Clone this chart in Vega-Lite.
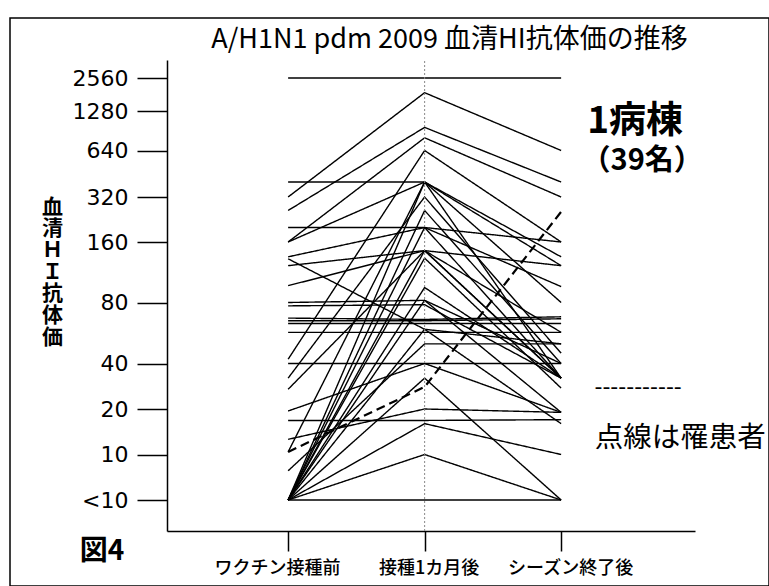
{
  "$schema": "https://vega.github.io/schema/vega-lite/v6.json",
  "width": 759,
  "height": 568,
  "autosize": "none",
  "padding": {"left": 10, "top": 18, "right": 0, "bottom": 0},
  "background": "white",
  "title": {
    "text": "A/H1N1 pdm 2009 血清HI抗体価の推移",
    "font": "Noto Sans CJK JP",
    "fontSize": 27,
    "fontWeight": "normal",
    "color": "black",
    "anchor": "middle",
    "frame": "group",
    "baseline": "middle",
    "offset": 0,
    "dx": 60,
    "dy": 49
  },
  "config": {
    "font": "Noto Sans CJK JP",
    "view": {"stroke": "black", "strokeWidth": 1.5},
    "axis": {"domainColor": "black", "tickColor": "black", "labelColor": "black", "titleColor": "black", "grid": false}
  },
  "data": {
    "values": [
      {"id": 1, "time": "ワクチン接種前", "titer": 2560, "group": "未罹患"},
      {"id": 1, "time": "接種1カ月後", "titer": 2560, "group": "未罹患"},
      {"id": 1, "time": "シーズン終了後", "titer": 2560, "group": "未罹患"},
      {"id": 2, "time": "ワクチン接種前", "titer": 320, "group": "未罹患"},
      {"id": 2, "time": "接種1カ月後", "titer": 1880, "group": "未罹患"},
      {"id": 2, "time": "シーズン終了後", "titer": 640, "group": "未罹患"},
      {"id": 3, "time": "ワクチン接種前", "titer": 260, "group": "未罹患"},
      {"id": 3, "time": "接種1カ月後", "titer": 960, "group": "未罹患"},
      {"id": 3, "time": "シーズン終了後", "titer": 400, "group": "未罹患"},
      {"id": 4, "time": "ワクチン接種前", "titer": 160, "group": "未罹患"},
      {"id": 4, "time": "接種1カ月後", "titer": 800, "group": "未罹患"},
      {"id": 4, "time": "シーズン終了後", "titer": 320, "group": "未罹患"},
      {"id": 5, "time": "ワクチン接種前", "titer": 42, "group": "未罹患"},
      {"id": 5, "time": "接種1カ月後", "titer": 640, "group": "未罹患"},
      {"id": 5, "time": "シーズン終了後", "titer": 160, "group": "未罹患"},
      {"id": 6, "time": "ワクチン接種前", "titer": 400, "group": "未罹患"},
      {"id": 6, "time": "接種1カ月後", "titer": 400, "group": "未罹患"},
      {"id": 6, "time": "シーズン終了後", "titer": 122, "group": "未罹患"},
      {"id": 7, "time": "ワクチン接種前", "titer": 200, "group": "未罹患"},
      {"id": 7, "time": "接種1カ月後", "titer": 200, "group": "未罹患"},
      {"id": 7, "time": "シーズン終了後", "titer": 96, "group": "未罹患"},
      {"id": 8, "time": "ワクチン接種前", "titer": 10.4, "group": "罹患"},
      {"id": 8, "time": "接種1カ月後", "titer": 28, "group": "罹患"},
      {"id": 8, "time": "シーズン終了後", "titer": 255, "group": "罹患"},
      {"id": 9, "time": "ワクチン接種前", "titer": 5, "group": "未罹患"},
      {"id": 9, "time": "接種1カ月後", "titer": 5, "group": "未罹患"},
      {"id": 9, "time": "シーズン終了後", "titer": 5, "group": "未罹患"},
      {"id": 10, "time": "ワクチン接種前", "titer": 5, "group": "未罹患"},
      {"id": 10, "time": "接種1カ月後", "titer": 10, "group": "未罹患"},
      {"id": 10, "time": "シーズン終了後", "titer": 5, "group": "未罹患"},
      {"id": 11, "time": "ワクチン接種前", "titer": 5, "group": "未罹患"},
      {"id": 11, "time": "接種1カ月後", "titer": 16, "group": "未罹患"},
      {"id": 11, "time": "シーズン終了後", "titer": 10, "group": "未罹患"},
      {"id": 12, "time": "ワクチン接種前", "titer": 16.8, "group": "未罹患"},
      {"id": 12, "time": "接種1カ月後", "titer": 16.8, "group": "未罹患"},
      {"id": 12, "time": "シーズン終了後", "titer": 17, "group": "未罹患"},
      {"id": 13, "time": "ワクチン接種前", "titer": 12.6, "group": "未罹患"},
      {"id": 13, "time": "接種1カ月後", "titer": 20, "group": "未罹患"},
      {"id": 13, "time": "シーズン終了後", "titer": 19, "group": "未罹患"},
      {"id": 14, "time": "ワクチン接種前", "titer": 19.4, "group": "未罹患"},
      {"id": 14, "time": "接種1カ月後", "titer": 40, "group": "未罹患"},
      {"id": 14, "time": "シーズン終了後", "titer": 19, "group": "未罹患"},
      {"id": 15, "time": "ワクチン接種前", "titer": 40, "group": "未罹患"},
      {"id": 15, "time": "接種1カ月後", "titer": 40, "group": "未罹患"},
      {"id": 15, "time": "シーズン終了後", "titer": 40, "group": "未罹患"},
      {"id": 16, "time": "ワクチン接種前", "titer": 5, "group": "未罹患"},
      {"id": 16, "time": "接種1カ月後", "titer": 32, "group": "未罹患"},
      {"id": 16, "time": "シーズン終了後", "titer": 5, "group": "未罹患"},
      {"id": 17, "time": "ワクチン接種前", "titer": 7.8, "group": "未罹患"},
      {"id": 17, "time": "接種1カ月後", "titer": 50, "group": "未罹患"},
      {"id": 17, "time": "シーズン終了後", "titer": 50, "group": "未罹患"},
      {"id": 18, "time": "ワクチン接種前", "titer": 80, "group": "未罹患"},
      {"id": 18, "time": "接種1カ月後", "titer": 82, "group": "未罹患"},
      {"id": 18, "time": "シーズン終了後", "titer": 40, "group": "未罹患"},
      {"id": 19, "time": "ワクチン接種前", "titer": 77, "group": "未罹患"},
      {"id": 19, "time": "接種1カ月後", "titer": 78, "group": "未罹患"},
      {"id": 19, "time": "シーズン終了後", "titer": 32, "group": "未罹患"},
      {"id": 20, "time": "ワクチン接種前", "titer": 67, "group": "未罹患"},
      {"id": 20, "time": "接種1カ月後", "titer": 66, "group": "未罹患"},
      {"id": 20, "time": "シーズン終了後", "titer": 68, "group": "未罹患"},
      {"id": 21, "time": "ワクチン接種前", "titer": 65, "group": "未罹患"},
      {"id": 21, "time": "接種1カ月後", "titer": 65, "group": "未罹患"},
      {"id": 21, "time": "シーズン終了後", "titer": 66.5, "group": "未罹患"},
      {"id": 22, "time": "ワクチン接種前", "titer": 63, "group": "未罹患"},
      {"id": 22, "time": "接種1カ月後", "titer": 63, "group": "未罹患"},
      {"id": 22, "time": "シーズン終了後", "titer": 63, "group": "未罹患"},
      {"id": 23, "time": "ワクチン接種前", "titer": 57, "group": "未罹患"},
      {"id": 23, "time": "接種1カ月後", "titer": 57, "group": "未罹患"},
      {"id": 23, "time": "シーズン終了後", "titer": 57, "group": "未罹患"},
      {"id": 24, "time": "ワクチン接種前", "titer": 160, "group": "未罹患"},
      {"id": 24, "time": "接種1カ月後", "titer": 400, "group": "未罹患"},
      {"id": 24, "time": "シーズン終了後", "titer": 135, "group": "未罹患"},
      {"id": 25, "time": "ワクチン接種前", "titer": 5, "group": "未罹患"},
      {"id": 25, "time": "接種1カ月後", "titer": 400, "group": "未罹患"},
      {"id": 25, "time": "シーズン終了後", "titer": 80, "group": "未罹患"},
      {"id": 26, "time": "ワクチン接種前", "titer": 10.4, "group": "未罹患"},
      {"id": 26, "time": "接種1カ月後", "titer": 400, "group": "未罹患"},
      {"id": 26, "time": "シーズン終了後", "titer": 32, "group": "未罹患"},
      {"id": 27, "time": "ワクチン接種前", "titer": 32, "group": "未罹患"},
      {"id": 27, "time": "接種1カ月後", "titer": 320, "group": "未罹患"},
      {"id": 27, "time": "シーズン終了後", "titer": 45, "group": "未罹患"},
      {"id": 28, "time": "ワクチン接種前", "titer": 135, "group": "未罹患"},
      {"id": 28, "time": "接種1カ月後", "titer": 200, "group": "未罹患"},
      {"id": 28, "time": "シーズン終了後", "titer": 32, "group": "未罹患"},
      {"id": 29, "time": "ワクチン接種前", "titer": 122, "group": "未罹患"},
      {"id": 29, "time": "接種1カ月後", "titer": 145, "group": "未罹患"},
      {"id": 29, "time": "シーズン終了後", "titer": 32, "group": "未罹患"},
      {"id": 30, "time": "ワクチン接種前", "titer": 97, "group": "未罹患"},
      {"id": 30, "time": "接種1カ月後", "titer": 145, "group": "未罹患"},
      {"id": 30, "time": "シーズン終了後", "titer": 57, "group": "未罹患"},
      {"id": 31, "time": "ワクチン接種前", "titer": 5, "group": "未罹患"},
      {"id": 31, "time": "接種1カ月後", "titer": 200, "group": "未罹患"},
      {"id": 31, "time": "シーズン終了後", "titer": 160, "group": "未罹患"},
      {"id": 32, "time": "ワクチン接種前", "titer": 27, "group": "未罹患"},
      {"id": 32, "time": "接種1カ月後", "titer": 145, "group": "未罹患"},
      {"id": 32, "time": "シーズン終了後", "titer": 32, "group": "未罹患"},
      {"id": 33, "time": "ワクチン接種前", "titer": 5, "group": "未罹患"},
      {"id": 33, "time": "接種1カ月後", "titer": 133, "group": "未罹患"},
      {"id": 33, "time": "シーズン終了後", "titer": 27.5, "group": "未罹患"},
      {"id": 34, "time": "ワクチン接種前", "titer": 5, "group": "未罹患"},
      {"id": 34, "time": "接種1カ月後", "titer": 95, "group": "未罹患"},
      {"id": 34, "time": "シーズン終了後", "titer": 32, "group": "未罹患"},
      {"id": 35, "time": "ワクチン接種前", "titer": 5, "group": "未罹患"},
      {"id": 35, "time": "接種1カ月後", "titer": 82, "group": "未罹患"},
      {"id": 35, "time": "シーズン終了後", "titer": 19, "group": "未罹患"},
      {"id": 36, "time": "ワクチン接種前", "titer": 132, "group": "未罹患"},
      {"id": 36, "time": "接種1カ月後", "titer": 59, "group": "未罹患"},
      {"id": 36, "time": "シーズン終了後", "titer": 50, "group": "未罹患"},
      {"id": 37, "time": "ワクチン接種前", "titer": 5, "group": "未罹患"},
      {"id": 37, "time": "接種1カ月後", "titer": 145, "group": "未罹患"},
      {"id": 37, "time": "シーズン終了後", "titer": 122, "group": "未罹患"},
      {"id": 38, "time": "ワクチン接種前", "titer": 5, "group": "未罹患"},
      {"id": 38, "time": "接種1カ月後", "titer": 260, "group": "未罹患"},
      {"id": 38, "time": "シーズン終了後", "titer": 40, "group": "未罹患"},
      {"id": 39, "time": "ワクチン接種前", "titer": 5, "group": "未罹患"},
      {"id": 39, "time": "接種1カ月後", "titer": 59, "group": "未罹患"},
      {"id": 39, "time": "シーズン終了後", "titer": 16, "group": "未罹患"}
    ]
  },
  "layer": [
    {
      "mark": {"type": "line", "color": "black"},
      "encoding": {
        "x": {
          "field": "time",
          "type": "ordinal",
          "sort": null,
          "scale": {"type": "point", "domain": ["ワクチン接種前", "接種1カ月後", "シーズン終了後"], "range": [157, 685], "padding": 0.934, "align": 0.475},
          "axis": {
            "title": null,
            "orient": "bottom",
            "offset": -55,
            "labelAngle": 0,
            "labelFont": "Noto Sans CJK JP",
            "labelFontSize": 18,
            "labelFontWeight": 500,
            "labelOffset": {"condition": [{"test": "datum.value === 'ワクチン接種前'", "value": -11}, {"test": "datum.value === 'シーズン終了後'", "value": 9}], "value": 4},
            "tickSize": 20,
            "tickWidth": 1.5,
            "domainWidth": 1.5,
            "labelPadding": 8
          }
        },
        "y": {
          "field": "titer",
          "type": "quantitative",
          "scale": {"type": "log", "nice": false, "zero": false, "domain": [3.4, 5, 10, 20, 40, 80, 160, 320, 640, 1280, 2560, 3600], "range": [513, 482, 436.5, 391, 345.5, 284.5, 224, 179, 132.5, 93, 60, 42]},
          "axis": {
            "orient": "left",
            "offset": -157,
            "values": [5, 10, 20, 40, 80, 160, 320, 640, 1280, 2560],
            "format": "d",
            "labelExpr": "datum.value == 5 ? '<10' : datum.label",
            "labelFont": "DejaVu Sans",
            "labelFontSize": 22,
            "labelPadding": 9,
            "tickSize": 30,
            "tickWidth": 1.5,
            "domainWidth": 1.5,
            "title": ["血", "清", "Ｈ", "Ｉ", "抗", "体", "価"],
            "titleAngle": 0,
            "titleFont": "Noto Sans CJK JP",
            "titleFontSize": 21,
            "titleFontWeight": "bold",
            "titleLineHeight": 21.7,
            "titleAlign": "center",
            "titleBaseline": "middle",
            "titleX": -115,
            "titleY": 189
          }
        },
        "detail": {"field": "id", "type": "nominal"},
        "strokeDash": {"field": "group", "type": "nominal", "scale": {"domain": ["未罹患", "罹患"], "range": [[1, 0], [9, 5]]}, "legend": null},
        "strokeWidth": {"field": "group", "type": "ordinal", "scale": {"domain": ["未罹患", "罹患"], "range": [1.4, 2.2]}, "legend": null}
      }
    },
    {
      "data": {"values": [{}]},
      "mark": {"type": "rule", "color": "#888888", "strokeWidth": 1, "strokeDash": [2, 2]},
      "encoding": {
        "x": {"datum": "接種1カ月後", "type": "ordinal"},
        "y": {"datum": 3.4, "type": "quantitative"},
        "y2": {"datum": 3600}
      }
    },
    {
      "data": {"values": [{"label": "1病棟"}]},
      "mark": {"type": "text", "font": "Noto Sans CJK JP", "fontSize": 37, "fontWeight": "bold", "align": "center", "baseline": "middle", "dx": 74, "dy": 11, "color": "black"},
      "encoding": {"text": {"field": "label"}, "x": {"datum": "シーズン終了後", "type": "ordinal"}, "y": {"datum": 1280, "type": "quantitative"}}
    },
    {
      "data": {"values": [{"label": "（39名）"}]},
      "mark": {"type": "text", "font": "Noto Sans CJK JP", "fontSize": 29, "fontWeight": "bold", "align": "center", "baseline": "middle", "dx": 81, "dy": 10, "color": "black"},
      "encoding": {"text": {"field": "label"}, "x": {"datum": "シーズン終了後", "type": "ordinal"}, "y": {"datum": 640, "type": "quantitative"}}
    },
    {
      "data": {"values": [{"label": "-----------"}]},
      "mark": {"type": "text", "font": "DejaVu Sans", "fontSize": 22, "align": "center", "baseline": "middle", "dx": 77, "dy": 23, "color": "black"},
      "encoding": {"text": {"field": "label"}, "x": {"datum": "シーズン終了後", "type": "ordinal"}, "y": {"datum": 40, "type": "quantitative"}}
    },
    {
      "data": {"values": [{"label": "点線は罹患者"}]},
      "mark": {"type": "text", "font": "Noto Sans CJK JP", "fontSize": 28.5, "align": "center", "baseline": "middle", "dx": 119, "dy": 29, "color": "black"},
      "encoding": {"text": {"field": "label"}, "x": {"datum": "シーズン終了後", "type": "ordinal"}, "y": {"datum": 20, "type": "quantitative"}}
    },
    {
      "data": {"values": [{"label": "図4"}]},
      "mark": {"type": "text", "font": "Noto Sans CJK JP", "fontSize": 28, "fontWeight": "bold", "align": "center", "baseline": "middle", "dx": -186, "dy": 52, "color": "black"},
      "encoding": {"text": {"field": "label"}, "x": {"datum": "ワクチン接種前", "type": "ordinal"}, "y": {"datum": 5, "type": "quantitative"}}
    }
  ]
}
